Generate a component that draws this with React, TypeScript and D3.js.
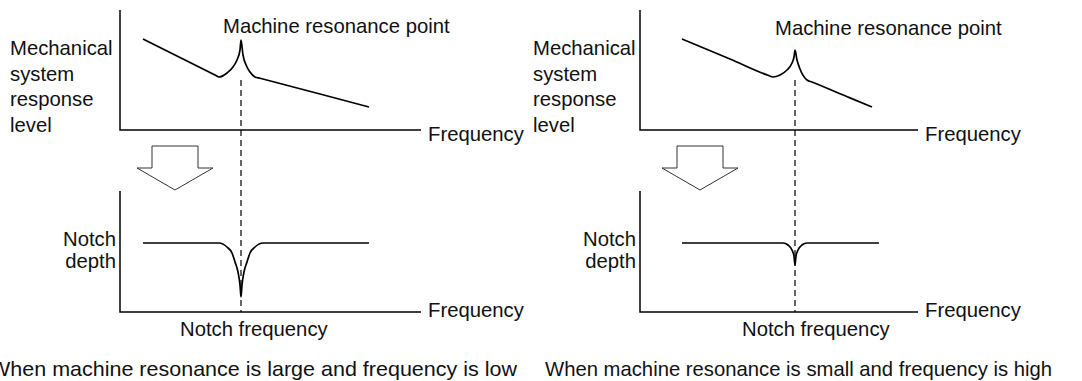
import React from "react";
import * as d3 from "d3";

const W = 1082;
const H = 381;
const font = "'Liberation Sans', Arial, sans-serif";
const fs = 20.3;

// response level curves: [frequency, level]
const responseLow: [number, number][] = [
  [23, 91], [60, 72.5], [95, 55], [99, 53], [107, 57], [113, 63], [117, 70], [120, 80], [121, 90],
  [123, 75], [127, 63], [130, 58], [135, 53], [140, 51.7], [200, 36], [249, 23],
];
const responseHigh: [number, number][] = [
  [42, 91], [90, 71], [128, 54.7], [133, 53], [140, 55], [147, 60], [152, 67], [154, 73], [155, 80],
  [157, 70], [160, 61], [167, 50], [172, 48], [210, 32.1], [232, 23],
];
// notch depth curves
const notchLow: [number, number][] = [
  [23, 69], [99, 69], [107, 65], [112, 59], [115, 50], [118, 40], [120, 27], [121, 15],
  [122, 27], [124, 40], [127, 50], [130, 59], [135, 65], [143, 69], [249, 69],
];
const notchHigh: [number, number][] = [
  [42, 69], [143, 69], [148, 67], [152, 62], [154, 56], [155, 47],
  [156, 56], [158, 62], [162, 67], [167, 69], [239, 69],
];

const yLabelLines = ["Mechanical", "system", "response", "level"];
const notchLines = ["Notch", "depth"];
const captions = [
  "When machine resonance is large and frequency is low",
  "When machine resonance is small and frequency is high",
];

const panels = [
  {
    left: 120, axisLen: 301, response: responseLow, notch: notchLow, peakF: 121,
    peakLevel: 50, labelX: 10, titleX: 223, titleY: 33, arrowX: 175,
    notchTextX: 180, caption: captions[0], captionX: -10, captionLen: 527,
  },
  {
    left: 640, axisLen: 278, response: responseHigh, notch: notchHigh, peakF: 155,
    peakLevel: 50, labelX: 533, titleX: 775, titleY: 35, arrowX: 700,
    notchTextX: 742, caption: captions[1], captionX: 545, captionLen: 507,
  },
];

const topY = d3.scaleLinear().domain([0, 120]).range([130, 10]);
const botY = d3.scaleLinear().domain([0, 120]).range([312, 192]);

function Arrow({ tipX }: { tipX: number }) {
  const pts = [
    [tipX - 23, 146], [tipX + 23, 146], [tipX + 23, 168], [tipX + 38, 168],
    [tipX, 190], [tipX - 38, 168], [tipX - 23, 168],
  ];
  return <polygon points={pts.map((p) => p.join(",")).join(" ")} fill="#fff" stroke="#333" strokeWidth={1} />;
}

function Panel({ p }: { p: (typeof panels)[number] }) {
  const x = d3.scaleLinear().domain([0, p.axisLen]).range([p.left, p.left + p.axisLen]);
  const lineTop = d3.line<[number, number]>().x((d) => x(d[0])).y((d) => topY(d[1])).curve(d3.curveMonotoneX);
  const lineBot = d3.line<[number, number]>().x((d) => x(d[0])).y((d) => botY(d[1])).curve(d3.curveMonotoneX);
  const px = x(p.peakF);
  const right = p.left + p.axisLen;
  return (
    <g fontFamily={font} fontSize={fs} fill="#111">
      {/* top chart */}
      <path d={`M${p.left},10V130H${right}`} fill="none" stroke="#000" strokeWidth={1.5} />
      <path d={lineTop(p.response) || ""} fill="none" stroke="#000" strokeWidth={1.7} />
      {yLabelLines.map((t, i) => (
        <text key={t} x={p.labelX} y={55 + i * 25.5}>{t}</text>
      ))}
      <text x={p.titleX} y={p.titleY}>Machine resonance point</text>
      <text x={right + 7} y={141}>Frequency</text>
      <Arrow tipX={p.arrowX} />
      {/* dashed guide */}
      <line x1={px} x2={px} y1={topY(p.peakLevel)} y2={312} stroke="#000" strokeWidth={1.2} strokeDasharray="6,4" />
      {/* bottom chart */}
      <path d={`M${p.left},191V312H${right}`} fill="none" stroke="#000" strokeWidth={1.5} />
      <path d={lineBot(p.notch) || ""} fill="none" stroke="#000" strokeWidth={1.7} />
      {notchLines.map((t, i) => (
        <text key={t} x={p.left - 4} y={246 + i * 22} textAnchor="end">{t}</text>
      ))}
      <text x={right + 7} y={317}>Frequency</text>
      <text x={p.notchTextX} y={336}>Notch frequency</text>
      <text x={p.captionX} y={376} textLength={p.captionLen} lengthAdjust="spacingAndGlyphs">
        {p.caption}
      </text>
    </g>
  );
}

export default function App() {
  return (
    <svg width={W} height={H} style={{ position: "absolute", left: 0, top: 0, background: "#fff" }}>
      {panels.map((p, i) => (
        <Panel key={i} p={p} />
      ))}
    </svg>
  );
}
